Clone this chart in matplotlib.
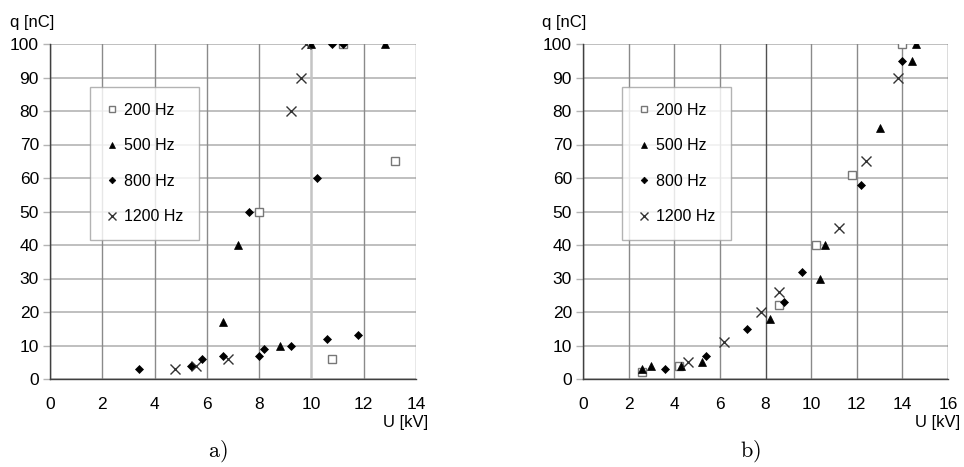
import matplotlib
matplotlib.use("Agg")
import matplotlib.pyplot as plt

plt.rcParams['font.family'] = ['Liberation Sans', 'DejaVu Sans']
plt.rcParams['mathtext.fontset'] = 'cm'

series_labels = ["200 Hz", "500 Hz", "800 Hz", "1200 Hz"]

# Panel a)
a_200_u = [11.2, 8.0, 13.2, 10.8]
a_200_q = [100, 50, 65, 6]
a_500_u = [12.8, 10.0, 7.2, 6.6, 8.8]
a_500_q = [100, 100, 40, 17, 10]
a_800_u = [10.8, 11.2, 10.2, 7.6, 3.4, 5.4, 5.8, 6.6, 8.0, 8.2, 9.2, 10.6, 11.8]
a_800_q = [100, 100, 60, 50, 3, 4, 6, 7, 7, 9, 10, 12, 13]
a_1200_u = [9.8, 9.6, 9.2, 4.8, 5.6, 6.8]
a_1200_q = [100, 90, 80, 3, 4, 6]

# Panel b)
b_200_u = [14.0, 11.8, 10.2, 8.6, 4.2, 2.6]
b_200_q = [100, 61, 40, 22, 4, 2]
b_500_u = [14.6, 14.4, 13.0, 10.6, 10.4, 8.2, 5.2, 3.0, 2.6, 4.3]
b_500_q = [100, 95, 75, 40, 30, 18, 5, 4, 3, 4]
b_800_u = [14.0, 12.2, 9.6, 8.8, 7.2, 5.4, 3.6]
b_800_q = [95, 58, 32, 23, 15, 7, 3]
b_1200_u = [13.8, 12.4, 11.2, 8.6, 7.8, 6.2, 4.6]
b_1200_q = [90, 65, 45, 26, 20, 11, 5]

y_ticks = list(range(0, 101, 10))
a_x_ticks = list(range(0, 15, 2))
b_x_ticks = list(range(0, 17, 2))

fig = plt.figure(figsize=(9.64, 4.67), dpi=100)
W, H = 964, 467


def px_axes(x0, x1, y0, y1):
    return fig.add_axes([x0 / W, 1 - y1 / H, (x1 - x0) / W, (y1 - y0) / H])


def draw_panel(ax, data, xticks, xmax, dark_vlines, light_vlines):
    ax.set_xlim(0, xmax)
    ax.set_ylim(0, 100)
    for y in y_ticks:
        ax.axhline(y, color='#b4b4b4', lw=1.2, zorder=1)
    for x in xticks:
        if x in light_vlines:
            ax.axvline(x, color='#c4c4c4', lw=1.8, zorder=1)
        elif x in dark_vlines:
            ax.axvline(x, color='#505050', lw=1.0, zorder=1)
        else:
            ax.axvline(x, color='#8a8a8a', lw=1.0, zorder=1)
    (u200, q200), (u500, q500), (u800, q800), (u1200, q1200) = data
    ax.plot(u200, q200, ls='none', marker='s', ms=5.5, mfc='white', mec='#777777', mew=1.0,
            zorder=3, label=series_labels[0])
    ax.plot(u500, q500, ls='none', marker='^', ms=6, mfc='black', mec='black', mew=0.5,
            zorder=3, label=series_labels[1])
    ax.plot(u800, q800, ls='none', marker='D', ms=4.5, mfc='black', mec='black', mew=0.5,
            zorder=4, label=series_labels[2])
    ax.plot(u1200, q1200, ls='none', marker='x', ms=7, mec='#333333', mew=1.0,
            zorder=3, label=series_labels[3])
    ax.set_xticks(xticks)
    ax.set_yticks(y_ticks)
    ax.tick_params(axis='x', length=0, pad=13, labelsize=12.5)
    ax.tick_params(axis='y', length=5, width=1, color='#b4b4b4', pad=3, labelsize=12.5)
    ax.spines['top'].set_visible(False)
    ax.spines['right'].set_visible(False)
    ax.spines['left'].set_color('#404040')
    ax.spines['bottom'].set_color('#404040')
    for s in ['left', 'bottom']:
        ax.spines[s].set_linewidth(1.0)
    leg = ax.legend(loc='upper left', frameon=True, fancybox=False, fontsize=11.5,
                    markerscale=0.75, handlelength=0.8, handletextpad=0.3,
                    labelspacing=1.28, borderpad=1.0, borderaxespad=0)
    leg.get_frame().set_edgecolor('#a0a0a0')
    leg.get_frame().set_linewidth(1.0)
    return leg


ax_a = px_axes(50, 416, 44, 379)
leg_a = draw_panel(ax_a, [(a_200_u, a_200_q), (a_500_u, a_500_q), (a_800_u, a_800_q),
                          (a_1200_u, a_1200_q)], a_x_ticks, 14, dark_vlines=[0],
                   light_vlines=[10])
leg_a.set_bbox_to_anchor(((90 - 50) / 366, (379 - 87) / 335), transform=ax_a.transAxes)

ax_b = px_axes(583, 948, 44, 379)
leg_b = draw_panel(ax_b, [(b_200_u, b_200_q), (b_500_u, b_500_q), (b_800_u, b_800_q),
                          (b_1200_u, b_1200_q)], b_x_ticks, 16, dark_vlines=[0, 8, 16],
                   light_vlines=[])
leg_b.set_bbox_to_anchor(((622 - 583) / 365, (379 - 87) / 335), transform=ax_b.transAxes)

fs = 12
fig.text(32 / W, 1 - 23 / H, "q [nC]", ha='center', va='center', fontsize=fs)
fig.text(564 / W, 1 - 23 / H, "q [nC]", ha='center', va='center', fontsize=fs)
fig.text(406 / W, 1 - 422 / H, "U [kV]", ha='center', va='center', fontsize=fs)
fig.text(938 / W, 1 - 422 / H, "U [kV]", ha='center', va='center', fontsize=fs)
fig.text(218 / W, 1 - 451 / H, r"$\mathrm{a)}$", ha='center', va='center', fontsize=16)
fig.text(750 / W, 1 - 451 / H, r"$\mathrm{b)}$", ha='center', va='center', fontsize=16)

fig.savefig("out.png", dpi=100)
